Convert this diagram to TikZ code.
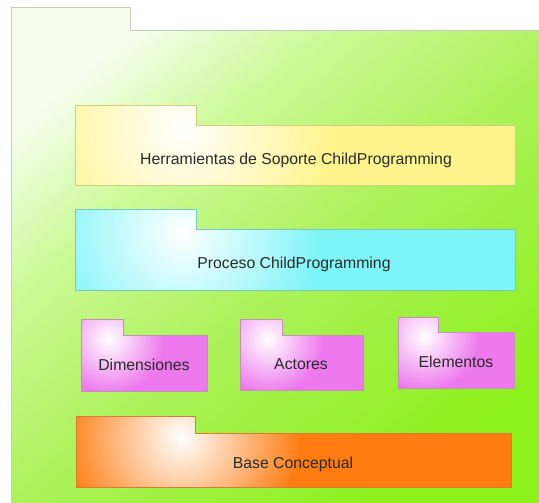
\documentclass[tikz,border=0pt]{standalone}
\usepackage{fontspec}
\setmainfont{Liberation Sans}
\definecolor{bglight}{HTML}{F6FEEE}
\definecolor{bgmid}{HTML}{CCFA98}
\definecolor{bgmid2}{HTML}{ACF25A}
\definecolor{bgdark}{HTML}{8CF01A}
\definecolor{bgborder}{HTML}{C8CCC0}
\definecolor{yelfill}{HTML}{FFF48C}
\definecolor{yelborder}{HTML}{D6CC80}
\definecolor{cyafill}{HTML}{7CF4F8}
\definecolor{cyaborder}{HTML}{78C8C0}
\definecolor{pinfill}{HTML}{EE78EE}
\definecolor{pinborder}{HTML}{C490B8}
\definecolor{orafill}{HTML}{FF7C10}
\definecolor{oraborder}{HTML}{E07A30}
\definecolor{txt}{HTML}{2A2A2A}
\pgfdeclareverticalshading{bgshading}{100bp}{color(0bp)=(bgdark); color(25bp)=(bgdark); color(48bp)=(bgmid2); color(64bp)=(bgmid); color(76bp)=(bglight); color(100bp)=(bglight)}
\tikzset{
  pkglabel/.style={font=\fontsize{15.8}{18}\selectfont, text=txt, inner sep=0pt},
}
% #1 x1, #2 y top of tab, #3 x tab right, #4 y top of body, #5 x2, #6 y2, #7 fill, #8 border, #9 highlight radius
\newcommand\pkgdraw[9]{%
  \begin{scope}
    \clip (#1,#2) -- (#3,#2) -- (#3,#4) -- (#5,#4) -- (#5,#6) -- (#1,#6) -- cycle;
    \fill[#7] (#1,#2) rectangle (#5,#6);
    \shade[inner color=white, outer color=#7] ({#3-14},{#4+4}) circle (#9);
  \end{scope}
  \draw[#8, line width=0.8pt, line join=miter]
    (#1,#2) -- (#3,#2) -- (#3,#4) -- (#5,#4) -- (#5,#6) -- (#1,#6) -- cycle;
}
\begin{document}
\begin{tikzpicture}[x=1pt,y=-1pt]
\useasboundingbox (0,0) rectangle (539,503);
\fill[white] (0,0) rectangle (539,503);
% outer package
\shade[shading=bgshading, shading angle=40]
  (11,7) -- (130,7) -- (130,30) -- (545,30) -- (545,510) -- (11,510) -- cycle;
\draw[bgborder, line width=0.9pt]
  (545,30) -- (130,30) -- (130,7) -- (11,7) -- (11,510);
% inner packages
\pkgdraw{75}{105}{196}{125}{515}{185}{yelfill}{yelborder}{150}
\node[pkglabel] (herr) at (296,160) {Herramientas de Soporte ChildProgramming};
\pkgdraw{75}{209}{196}{229}{515}{290}{cyafill}{cyaborder}{140}
\node[pkglabel] (proc) at (294,264) {Proceso ChildProgramming};
\pkgdraw{81}{319}{123}{335}{207}{391}{pinfill}{pinborder}{55}
\node[pkglabel] (dim) at (144,365) {Dimensiones};
\pkgdraw{240}{319}{282}{335}{363}{390}{pinfill}{pinborder}{55}
\node[pkglabel] (act) at (301,364) {Actores};
\pkgdraw{398}{317}{438}{332}{514}{388}{pinfill}{pinborder}{55}
\node[pkglabel] (ele) at (456,362) {Elementos};
\pkgdraw{76}{416}{195}{433}{511}{487}{orafill}{oraborder}{120}
\node[pkglabel] (base) at (293,464) {Base Conceptual};
\end{tikzpicture}
\end{document}
